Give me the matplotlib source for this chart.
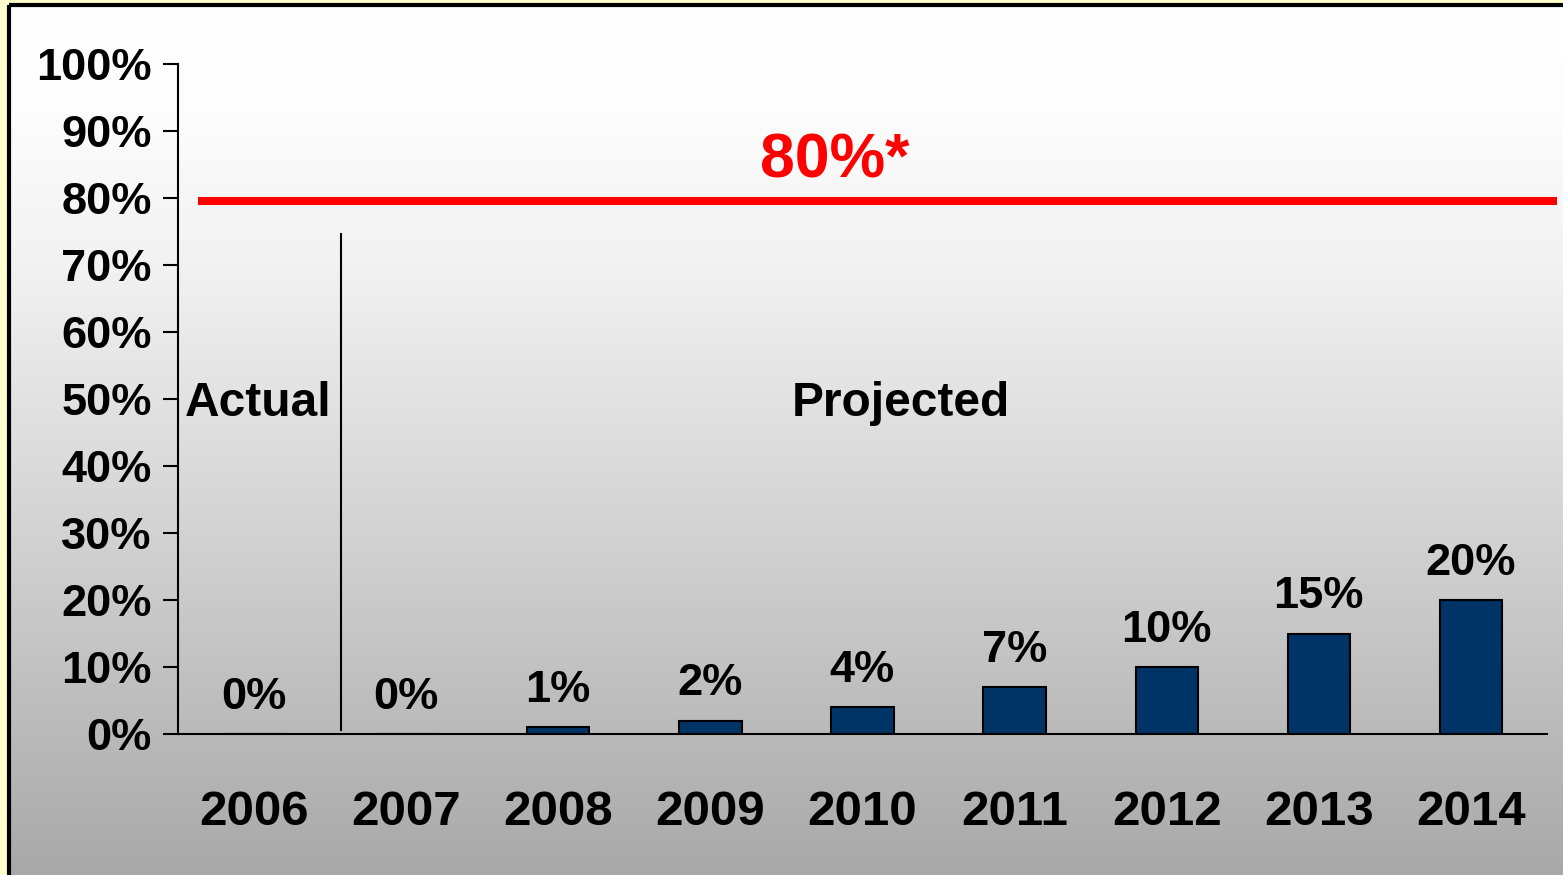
import matplotlib.pyplot as plt
import numpy as np
from matplotlib.patches import Rectangle
from matplotlib.colors import LinearSegmentedColormap
from matplotlib.transforms import offset_copy

# share of the target, by year
years = ['2006', '2007', '2008', '2009', '2010', '2011', '2012', '2013', '2014']
share = [0, 0, 1, 2, 4, 7, 10, 15, 20]
target = 80
yticks = [0, 10, 20, 30, 40, 50, 60, 70, 80, 90, 100]

plt.rcParams['font.family'] = ['Liberation Sans', 'DejaVu Sans']
plt.rcParams['font.weight'] = 'bold'

W, H = 1563, 875
fig = plt.figure(figsize=(W / 100, H / 100), dpi=100)
fig.patch.set_facecolor('#FFFFCC')

# background panel: white at the top fading to grey
bg = fig.add_axes([0, 0, 1, 1], zorder=0)
bg.set_axis_off()
bg.set_xlim(0, W)
bg.set_ylim(H, 0)
grad = LinearSegmentedColormap.from_list(
    'panel', [(0, '#FFFFFF'), (0.12, '#FDFDFD'), (0.3, '#F1F1F1'),
              (0.6, '#D2D2D2'), (1.0, '#A6A6A6')])
panel = np.linspace(0, 1, 256).reshape(-1, 1)
bg.imshow(panel, cmap=grad, aspect='auto', extent=[9, W + 20, H + 20, 5],
          interpolation='bilinear')
bg.add_patch(Rectangle((9, 5), W + 20, H + 20, fill=False,
                       edgecolor='black', linewidth=3))

ax = fig.add_axes([178 / W, 141 / H, 1369 / W, 670 / H], zorder=1)
ax.patch.set_alpha(0)

x = np.arange(len(years))
ax.bar(x, share, width=0.41, color='#003366', edgecolor='black', linewidth=1.5)

for xi, v in zip(x, share):
    ax.text(xi, v + 3.8, f'{v}%', ha='center', va='baseline', fontsize=32.5,
            fontweight='bold')

# target line, nudged a few pixels down like the original slide
line_tr = offset_copy(ax.get_yaxis_transform(), fig=fig, y=-3, units='dots')
ax.plot([0.0146, 1.0073], [target, target], transform=line_tr,
        color='#FF0000', linewidth=5.8, clip_on=False, solid_capstyle='butt')
ax.text(3.82, 83.0, f'{target}%*', color='#FF0000', ha='center',
        va='baseline', fontsize=45, fontweight='bold')

# actual / projected split
ax.plot([0.57, 0.57], [0.6, 74.6], color='black', linewidth=1.5)
ax.text(0.026, 47.5, 'Actual', ha='center', va='baseline', fontsize=34.5,
        fontweight='bold')
ax.text(4.25, 47.5, 'Projected', ha='center', va='baseline', fontsize=34.5,
        fontweight='bold')

ax.set_xlim(-0.5, len(years) - 0.5)
ax.set_ylim(0, 100)
ax.set_xticks(x)
ax.set_xticklabels(years, fontsize=35.5, fontweight='bold')
ax.tick_params(axis='x', length=0, pad=40)
ax.set_yticks(yticks)
ax.set_yticklabels([f'{t}%' for t in yticks], fontsize=32.5, fontweight='bold')
ax.tick_params(axis='y', length=10.8, width=1.5, pad=8)

for side in ['top', 'right']:
    ax.spines[side].set_visible(False)
for side in ['left', 'bottom']:
    ax.spines[side].set_linewidth(1.5)

plt.savefig('out.png', dpi=100, facecolor=fig.get_facecolor())
